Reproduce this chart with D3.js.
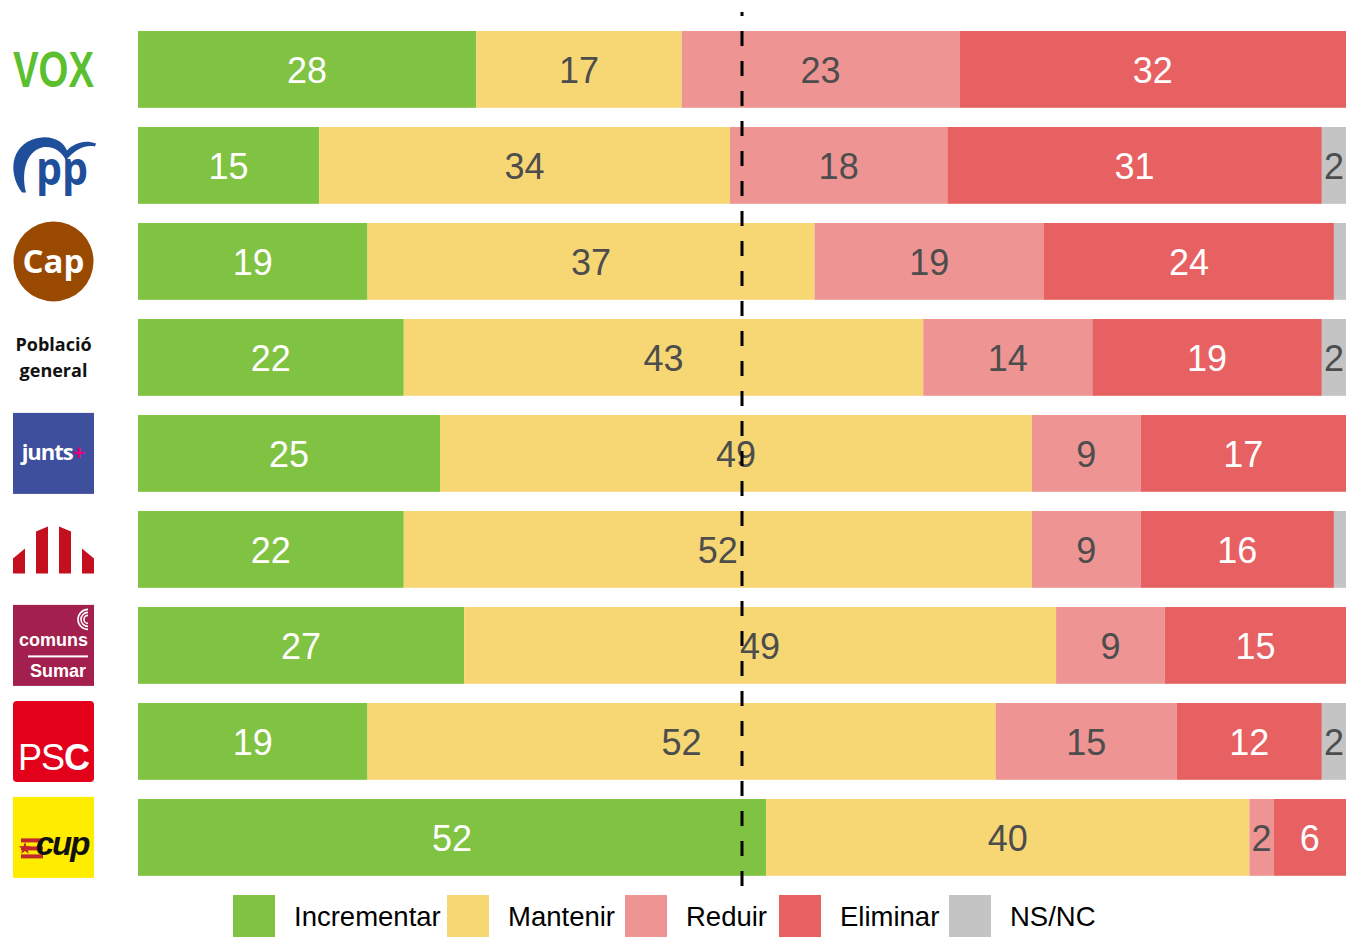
<!DOCTYPE html>
<html>
<head>
<meta charset="utf-8">
<script src="https://cdn.jsdelivr.net/npm/d3@7"></script>
<style>
  body { margin: 0; background: #fff; }
  svg { display: block; font-family: "Liberation Sans", Arial, sans-serif; }
</style>
</head>
<body>
<div id="chart"></div>
<script>
// data (percent of respondents per group)
const parties = ["VOX", "PP", "Cap", "Població general", "Junts", "ERC", "Comuns", "PSC", "CUP"]
const incrementar = [28, 15, 19, 22, 25, 22, 27, 19, 52]
const mantenir = [17, 34, 37, 43, 49, 52, 49, 52, 40]
const reduir = [23, 18, 19, 14, 9, 9, 9, 15, 2]
const eliminar = [32, 31, 24, 19, 17, 16, 15, 12, 6]
const nsnc = [0, 2, 1, 2, 0, 1, 0, 2, 0]

const categories = ["Incrementar", "Mantenir", "Reduir", "Eliminar", "NS/NC"]
const colors = ["#80c241", "#f7d774", "#ee9594", "#e76062", "#c4c4c4"]
const labelColors = ["#ffffff", "#4d4d4d", "#4d4d4d", "#ffffff", "#4d4d4d"]
const midline = 50

const width = 1346
const height = 937

const rows = parties.map((p, i) => ({
    party: p,
    Incrementar: incrementar[i],
    Mantenir: mantenir[i],
    Reduir: reduir[i],
    Eliminar: eliminar[i],
    "NS/NC": nsnc[i]
}))

const svg = d3.select("#chart").append("svg")
    .attr("width", width)
    .attr("height", height)

const x = d3.scaleLinear().domain([0, 100]).range([138, 1346])
const y = d3.scaleBand().domain(parties).range([11.8, 895]).padding(0.2)
const color = d3.scaleOrdinal().domain(categories).range(colors)
const labelColor = d3.scaleOrdinal().domain(categories).range(labelColors)

const series = d3.stack().keys(categories)(rows)

const layers = svg.append("g")
    .selectAll("g")
    .data(series)
    .join("g")
    .attr("fill", d => color(d.key))

layers.selectAll("rect")
    .data(d => d.map(v => Object.assign(v, {key: d.key})))
    .join("rect")
    .attr("x", d => x(d[0]))
    .attr("y", d => y(d.data.party))
    .attr("width", d => x(d[1]) - x(d[0]))
    .attr("height", y.bandwidth())

// value labels
layers.selectAll("text")
    .data(d => d.filter(v => v[1] - v[0] >= 2))
    .join("text")
    .attr("x", d => (x(d[0]) + x(d[1])) / 2)
    .attr("y", d => y(d.data.party) + y.bandwidth() / 2)
    .attr("text-anchor", "middle")
    .attr("dy", "0.39em")
    .attr("font-size", 36)
    .attr("fill", d => labelColor(d.key))
    .text(d => d[1] - d[0])

// dashed 50% line
svg.append("line")
    .attr("x1", x(midline)).attr("x2", x(midline))
    .attr("y1", 12).attr("y2", 895)
    .attr("stroke", "#000")
    .attr("stroke-width", 3)
    .attr("stroke-dasharray", "15,15")
    .attr("stroke-dashoffset", 11)

// legend
const legendX = [233, 447, 625, 779, 949]
const legend = svg.append("g")
categories.forEach((c, i) => {
    legend.append("rect")
        .attr("x", legendX[i]).attr("y", 895)
        .attr("width", 42).attr("height", 42)
        .attr("fill", colors[i])
    legend.append("text")
        .attr("x", legendX[i] + 61).attr("y", 916)
        .attr("dy", "0.37em")
        .attr("font-size", 27.5)
        .attr("fill", "#000")
        .text(c)
})

// logos on the left
const logos = svg.append("g")
function rowMid(p) { return y(p) + y.bandwidth() / 2 }

// VOX
logos.append("text")
    .attr("x", 13).attr("y", rowMid("VOX") + 18)
    .attr("font-size", 50).attr("font-weight", "bold")
    .attr("textLength", 81).attr("lengthAdjust", "spacingAndGlyphs")
    .attr("fill", "#5bbf2f")
    .text("VOX")

// PP
let py = rowMid("PP")
logos.append("path")
    .attr("transform", `translate(0,${py - 165})`)
    .attr("d", "M22,192 C6,170 12,140 42,137 C56,136 64,143 67,150 C74,143 84,139 96,143 L95,146 C84,144 74,150 66,160 C62,152 54,145 42,147 C26,151 21,172 26,192 Z")
    .attr("fill", "#1f4e9a")
logos.append("text")
    .attr("x", 62).attr("y", py + 20)
    .attr("text-anchor", "middle")
    .attr("font-family", "'Open Sans', sans-serif")
    .attr("font-size", 46).attr("font-weight", "bold")
    .attr("textLength", 52).attr("lengthAdjust", "spacingAndGlyphs")
    .attr("fill", "#1f4e9a")
    .text("pp")

// Cap
let cy = rowMid("Cap")
logos.append("circle").attr("cx", 53.5).attr("cy", cy).attr("r", 40).attr("fill", "#994a00")
logos.append("text")
    .attr("x", 53.5).attr("y", cy + 12)
    .attr("text-anchor", "middle")
    .attr("font-family", "'Open Sans', sans-serif")
    .attr("font-size", 33).attr("font-weight", "bold")
    .attr("fill", "#fff")
    .text("Cap")

// Població general
let gy = rowMid("Població general")
logos.append("text")
    .attr("text-anchor", "middle")
    .attr("font-family", "'Open Sans', sans-serif")
    .attr("font-size", 18).attr("font-weight", "bold")
    .attr("fill", "#111")
    .selectAll("tspan")
    .data(["Població", "general"])
    .join("tspan")
    .attr("x", 53.5)
    .attr("y", (d, i) => gy - 6 + i * 26)
    .text(d => d)

// Junts
let jy = rowMid("Junts")
logos.append("rect").attr("x", 13).attr("y", jy - 40.5).attr("width", 81).attr("height", 81).attr("fill", "#3d4f9d")
const jt = logos.append("text")
    .attr("x", 53).attr("y", jy + 7)
    .attr("text-anchor", "middle")
    .attr("font-family", "'Open Sans', sans-serif")
    .attr("font-size", 22).attr("font-weight", "bold")
    .attr("letter-spacing", -1)
    .attr("fill", "#fff")
jt.append("tspan").text("junts")
jt.append("tspan").attr("fill", "#e6007e").text("+")

// ERC
let ey = rowMid("ERC")
const ercShapes = [
    [[13, 10], [25, 0], [25, 25], [13, 25]],
    [[36, -17], [48, -22], [48, 25], [36, 25]],
    [[59, -22], [71, -17], [71, 25], [59, 25]],
    [[82, 0], [94, 10], [94, 25], [82, 25]]
]
logos.selectAll("polygon.erc")
    .data(ercShapes)
    .join("polygon")
    .attr("class", "erc")
    .attr("points", d => d.map(p => [p[0], p[1] + ey - 1].join(",")).join(" "))
    .attr("fill", "#c30f1e")

// Comuns Sumar
let sy = rowMid("Comuns")
logos.append("rect").attr("x", 13).attr("y", sy - 40.5).attr("width", 81).attr("height", 81).attr("fill", "#a3204e")
;[4, 7, 10].forEach(r => {
    logos.append("path")
        .attr("d", d3.arc()({innerRadius: r - 0.8, outerRadius: r + 0.8, startAngle: Math.PI, endAngle: 2 * Math.PI}))
        .attr("transform", `translate(88,${sy - 26})`)
        .attr("fill", "#fff")
})
logos.append("text")
    .attr("x", 53.5).attr("y", sy + 1)
    .attr("text-anchor", "middle")
    .attr("font-size", 18).attr("font-weight", "bold")
    .attr("fill", "#fff")
    .text("comuns")
logos.append("rect").attr("x", 28).attr("y", sy + 10).attr("width", 60).attr("height", 2).attr("fill", "#fff")
logos.append("text")
    .attr("x", 58).attr("y", sy + 32)
    .attr("text-anchor", "middle")
    .attr("font-size", 18).attr("font-weight", "bold")
    .attr("fill", "#fff")
    .text("Sumar")

// PSC
let ry = rowMid("PSC")
logos.append("rect").attr("x", 13).attr("y", ry - 40.5).attr("width", 81).attr("height", 81).attr("rx", 4).attr("fill", "#e2001a")
const pt = logos.append("text")
    .attr("x", 53.5).attr("y", ry + 29)
    .attr("text-anchor", "middle")
    .attr("font-size", 36)
    .attr("letter-spacing", -1)
    .attr("fill", "#fff")
pt.append("tspan").text("PS")
pt.append("tspan").attr("font-weight", "bold").text("C")

// CUP
let uy = rowMid("CUP")
logos.append("rect").attr("x", 13).attr("y", uy - 40.5).attr("width", 81).attr("height", 81).attr("fill", "#ffed00")
;[1, 9, 17].forEach(o => {
    logos.append("rect")
        .attr("x", 21).attr("y", uy + o)
        .attr("width", 22).attr("height", 4)
        .attr("fill", "#c1272d")
})
logos.append("path")
    .attr("d", d3.symbol(d3.symbolStar, 50)())
    .attr("transform", `translate(25,${uy + 11})`)
    .attr("fill", "#c1272d")
logos.append("text")
    .attr("x", 62).attr("y", uy + 18)
    .attr("text-anchor", "middle")
    .attr("font-size", 33).attr("font-weight", "bold").attr("font-style", "italic")
    .attr("letter-spacing", -2)
    .attr("fill", "#111")
    .text("cup")
</script>
</body>
</html>
